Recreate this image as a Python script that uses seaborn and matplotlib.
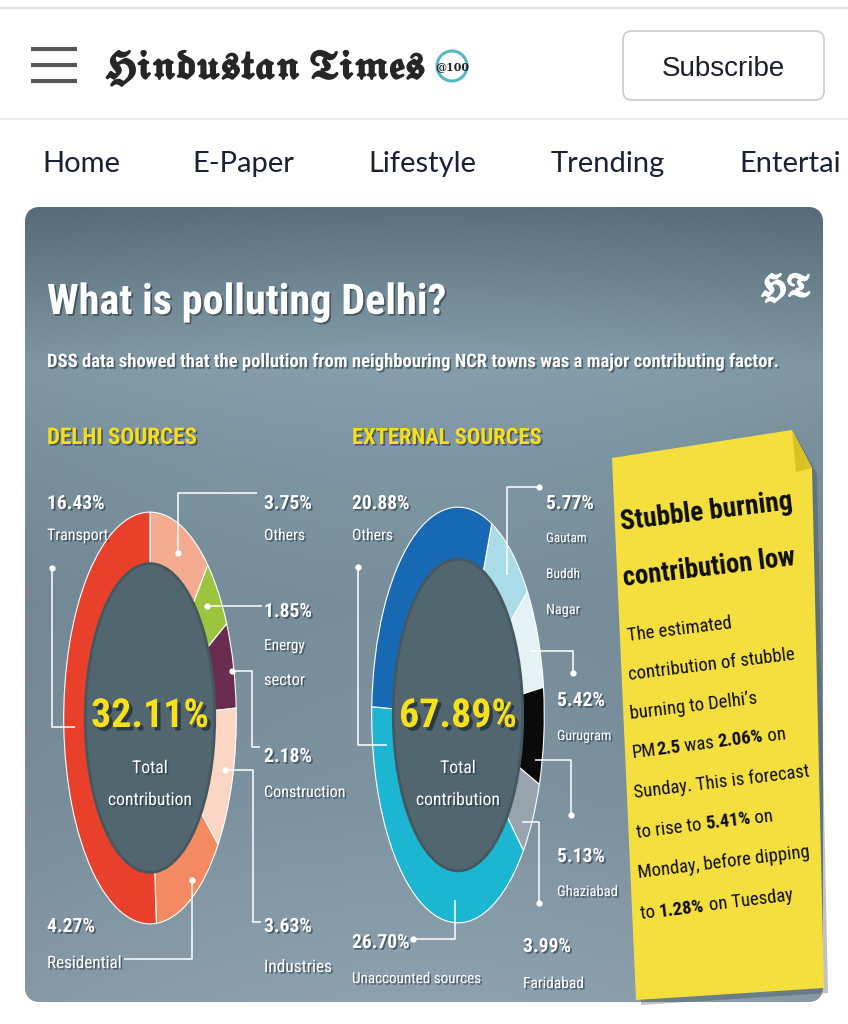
import matplotlib
matplotlib.use("Agg")
import matplotlib.pyplot as plt
import matplotlib.patheffects as pe
from matplotlib import font_manager as fm
from matplotlib.patches import FancyBboxPatch, Polygon, Ellipse, Circle
import numpy as np
import seaborn as sns

# ---- data -------------------------------------------------------------
delhi_names = ["Others", "Energy\nsector", "Construction", "Industries", "Residential", "Transport"]
delhi_values = [3.75, 1.85, 2.18, 3.63, 4.27, 16.43]
delhi_colors = ["#f5ab90", "#9cc43e", "#6a2c4e", "#fcd6c4", "#f48a62", "#e8402b"]
delhi_total = 32.11

ext_names = ["Gautam\nBuddh\nNagar", "Gurugram", "Ghaziabad", "Faridabad", "Unaccounted sources", "Others"]
ext_values = [5.77, 5.42, 5.13, 3.99, 26.70, 20.88]
ext_colors = ["#a9dbe8", "#e4f2f5", "#0a0a0a", "#97a4ad", "#1cb6d3", "#1769b4"]
ext_total = 67.89

nav_items = ["Home", "E-Paper", "Lifestyle", "Trending", "Entertai"]

note_title = ["Stubble burning", "contribution low"]
note_lines = [
    [("The estimated", False)],
    [("contribution of stubble", False)],
    [("burning to Delhi\u2019s", False)],
    [("PM", False), ("2.5", True), (" was ", False), ("2.06%", True), (" on", False)],
    [("Sunday. This is forecast", False)],
    [("to rise to ", False), ("5.41%", True), (" on", False)],
    [("Monday, before dipping", False)],
    [("to ", False), ("1.28%", True), (" on Tuesday", False)],
]

# ---- layout (pixel positions of labels / leader lines) -----------------
delhi_layout = [
    dict(val=(264, 509), name=(264, 540), line=[(257, 493), (178, 493), (178, 553)]),
    dict(val=(264, 617), name=(264, 650), line=[(262, 606), (207, 606)]),
    dict(val=(264, 762), name=(264, 797), line=[(260, 747), (252, 747), (252, 671), (232, 671)]),
    dict(val=(264, 932), name=(264, 972), line=[(261, 922), (253, 922), (253, 770), (225, 770)]),
    dict(val=(47, 932), name=(47, 968), line=[(124, 959), (192, 959), (192, 880)]),
    dict(val=(47, 509), name=(47, 540), line=[(75, 727), (52, 727), (52, 568)]),
]
ext_layout = [
    dict(val=(546, 509), name=(546, 542), line=[(507, 575), (507, 487), (539, 487)]),
    dict(val=(557, 706), name=(557, 740), line=[(530, 651), (573, 651), (573, 673)]),
    dict(val=(557, 862), name=(557, 896), line=[(535, 760), (571, 760), (571, 815)]),
    dict(val=(523, 952), name=(523, 988), line=[(522, 822), (539, 822), (539, 903)]),
    dict(val=(352, 948), name=(352, 983), line=[(455, 900), (455, 939), (413, 939)]),
    dict(val=(352, 509), name=(352, 540), line=[(387, 745), (358, 745), (358, 567)]),
]

sns.set_theme(style="white")
names = {f.name for f in fm.fontManager.ttflist}
COND = next((n for n in ["Roboto Condensed", "Liberation Sans Narrow", "Open Sans Condensed"] if n in names), "DejaVu Sans")
plt.rcParams["font.family"] = [COND, "DejaVu Sans"]

W, H = 848, 1024
fig = plt.figure(figsize=(W / 100, H / 100), dpi=100)
fig.patch.set_facecolor("white")


def px_axes(z):
    a = fig.add_axes([0, 0, 1, 1], zorder=z)
    a.set_xlim(0, W)
    a.set_ylim(H, 0)
    a.axis("off")
    a.patch.set_visible(False)
    return a


bg = px_axes(0)
renderer = fig.canvas.get_renderer()


def put(a, x, y, s, size, width=None, **kw):
    t = a.text(x, y, s, fontsize=size, **kw)
    if width is not None:
        w = t.get_window_extent(renderer).width
        if w > width:
            t.set_fontsize(size * width / w)
    return t


shadow = [pe.withSimplePatchShadow(offset=(1.2, -1.2), shadow_rgbFace="#1d2a31", alpha=0.55)]

# ---- page chrome -------------------------------------------------------
bg.plot([0, W], [8, 8], color="#e2e2e2", lw=1.6)
bg.plot([0, W], [119, 119], color="#ececec", lw=1.4)
for yy in (49, 65, 81):
    bg.plot([31, 77], [yy, yy], color="#575757", lw=3, solid_capstyle="butt")
put(bg, 105, 78, r"$\mathfrak{Hindustan}\ \mathfrak{Times}$", 30, width=320,
    color="#262626", math_fontfamily="stix",
    path_effects=[pe.withStroke(linewidth=1.6, foreground="#262626")])
bg.add_patch(Circle((452, 66), 15, facecolor="white", edgecolor="#55b9c4", lw=2.2))
put(bg, 452, 67, "@100", 8, color="#222222", ha="center", va="center",
    fontfamily="DejaVu Serif", fontweight="bold")
bg.add_patch(FancyBboxPatch((623, 31), 201, 69, boxstyle="round,pad=0,rounding_size=9",
                            facecolor="white", edgecolor="#cfcfcf", lw=1.3))
put(bg, 723, 76, "Subscribe", 20, width=134, color="#1b1f2c", ha="center",
    fontfamily="Liberation Sans")
nav_x = [42, 192, 368, 551, 739]
nav_w = [80, 105, 112, 117, 120]
for x, s, w in zip(nav_x, nav_items, nav_w):
    put(bg, x, 172, s, 21, width=w, color="#1a2035", fontfamily="Lato")

# ---- infographic panel -------------------------------------------------
panel = FancyBboxPatch((25, 207), 798, 795, boxstyle="round,pad=0,rounding_size=16",
                       facecolor="#76899a", edgecolor="none")
bg.add_patch(panel)
gy = np.linspace(0, 1, 300)[:, None]
gx = np.linspace(0, 1, 300)[None, :]
stops_y = [0.0, 0.2, 0.32, 0.5, 0.75, 1.0]
stops_c = np.array([[0.34, 0.42, 0.47], [0.50, 0.59, 0.64], [0.47, 0.56, 0.61],
                    [0.45, 0.53, 0.58], [0.47, 0.55, 0.60], [0.53, 0.60, 0.65]])
vert = np.stack([np.interp(gy[:, 0], stops_y, stops_c[:, k]) for k in range(3)], axis=-1)
img = vert[:, None, :] * (1.0 + 0.05 * np.sin(gx[0] * np.pi)[None, :, None])
im = bg.imshow(np.clip(img, 0, 1), extent=(25, 823, 1002, 207), aspect="auto", zorder=1)
im.set_clip_path(panel)

put(bg, 47, 314, "What is polluting Delhi?", 60, width=400, color="white",
    fontweight="bold", fontstretch="condensed", zorder=5, path_effects=shadow)
put(bg, 786, 296, r"$\mathfrak{HT}$", 44, width=50, color="white", ha="center",
    math_fontfamily="stix", zorder=5,
    path_effects=[pe.withStroke(linewidth=1.4, foreground="white")])
put(bg, 47, 367, "DSS data showed that the pollution from neighbouring NCR towns was a major contributing factor.",
    21, width=732, color="white", fontweight="bold", fontstretch="condensed", zorder=5,
    path_effects=shadow)
put(bg, 47, 444, "DELHI SOURCES", 32, width=150, color="#f7dd1c", fontweight="bold",
    fontstretch="condensed", zorder=5, path_effects=shadow)
put(bg, 352, 444, "EXTERNAL SOURCES", 32, width=190, color="#f7dd1c", fontweight="bold",
    fontstretch="condensed", zorder=5, path_effects=shadow)

# sticky note
note = Polygon([(612, 458), (792, 430), (812, 468), (824, 988), (636, 1000)], closed=True,
               facecolor="#f4df3e", edgecolor="none", zorder=4)
bg.add_patch(Polygon([(616, 463), (796, 436), (817, 474), (828, 993), (641, 1005)], closed=True,
                     facecolor="#2b3a42", alpha=0.3, edgecolor="none", zorder=3))
bg.add_patch(note)
bg.add_patch(Polygon([(792, 430), (812, 468), (796, 472)], closed=True,
                     facecolor="#d9c124", edgecolor="none", zorder=5))

ANG = 7.0
ca, sa = np.cos(np.radians(ANG)), np.sin(np.radians(ANG))


def seg_width(s, size, bold):
    kw = dict(fontsize=size, fontweight="bold" if bold else "normal", fontstretch="condensed")
    t1 = bg.text(0, 0, "|" + s + "|", **kw)
    t2 = bg.text(0, 0, "||", **kw)
    w = t1.get_window_extent(renderer).width - t2.get_window_extent(renderer).width
    t1.remove()
    t2.remove()
    return w


title_pos = [(621, 530), (624, 586)]
for (x, y), s in zip(title_pos, note_title):
    put(bg, x, y, s, 38, width=176, color="#0d0d0d", fontweight="bold", fontstretch="condensed",
        rotation=ANG, rotation_mode="anchor", zorder=6)

BODY = 24
longest = max(sum(seg_width(s, BODY, b) for s, b in parts) for parts in note_lines)
BODY = BODY * min(1.0, 177.0 / longest)
body_pos = [(628, 641), (629, 680), (631, 719), (633, 758), (635, 798), (637, 838), (639, 878), (641, 919)]
for (x, y), parts in zip(body_pos, note_lines):
    off = 0.0
    for s, bold in parts:
        bg.text(x + off * ca, y - off * sa, s, fontsize=BODY, color="#0d0d0d",
                fontweight="bold" if bold else "normal", fontstretch="condensed",
                rotation=ANG, rotation_mode="anchor", ha="left", va="baseline", zorder=6)
        off += seg_width(s, BODY, bold)

# ---- donuts -----------------------------------------------------------
HOLE = "#52666f"


def donut(box, values, colors, start):
    x0, y0, x1, y1 = box
    d = fig.add_axes([x0 / W, 1 - y1 / H, (x1 - x0) / W, (y1 - y0) / H], zorder=1)
    d.pie(values, colors=sns.color_palette(colors), startangle=start, counterclock=False,
          radius=1, wedgeprops=dict(width=0.25, edgecolor="white", linewidth=0.8))
    d.add_patch(Ellipse((0, 0), 1.5, 1.5, facecolor=HOLE, edgecolor="#46585f", lw=2))
    d.set_xlim(-1.02, 1.02)
    d.set_ylim(-1.02, 1.02)
    d.set_aspect("auto")
    d.axis("off")
    return d


donut((62, 508, 238, 928), delhi_values, delhi_colors, 90)
donut((370, 503, 546, 927), ext_values, ext_colors, 67)

top = px_axes(2)


def labels(values, names_, layout, gap):
    for v, n, lay in zip(values, names_, layout):
        x, y = lay["val"]
        s = f"{v:.2f}%"
        put(top, x, y, s, 29, width=9.6 * len(s), color="white", fontweight="bold",
            fontstretch="condensed", path_effects=shadow)
        nx, ny = lay["name"]
        for k, line in enumerate(n.split("\n")):
            put(top, nx, ny + k * gap, line, 19, width=6.8 * len(line), color="white",
                fontstretch="condensed", path_effects=shadow)
        xs, ys = zip(*lay["line"])
        top.plot(xs, ys, color="white", lw=1.1, solid_capstyle="butt")
        top.plot([xs[-1]], [ys[-1]], "o", color="white", ms=3.5)


labels(delhi_values, delhi_names, delhi_layout, 35)
labels(ext_values, ext_names, ext_layout, 36)

big_shadow = [pe.withSimplePatchShadow(offset=(2.5, -2.5), shadow_rgbFace="#1d2a31", alpha=0.7)]
for cx, tot in ((150, delhi_total), (458, ext_total)):
    put(top, cx, 727, f"{tot:.2f}%", 70, width=118, color="#f8e01b", fontweight="bold",
        fontstretch="condensed", ha="center", path_effects=big_shadow)
    c = put(top, cx, 805, "contribution", 21, width=84, color="white", ha="center",
            fontstretch="condensed", path_effects=shadow)
    put(top, cx, 773, "Total", c.get_fontsize(), color="white", ha="center",
        fontstretch="condensed", path_effects=shadow)

fig.savefig("out.png", dpi=100, facecolor="white")
